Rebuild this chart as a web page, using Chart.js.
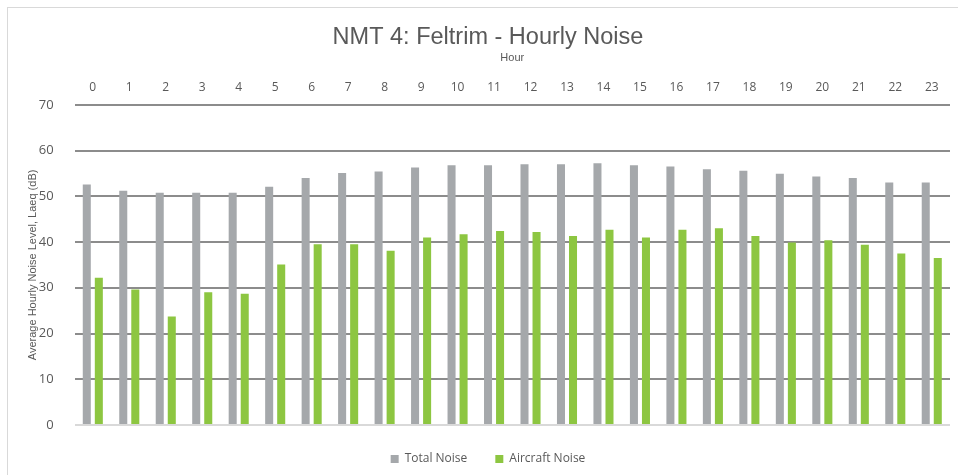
<!DOCTYPE html>
<html>
<head>
<meta charset="utf-8">
<script src="https://cdn.jsdelivr.net/npm/chart.js@4.4.1/dist/chart.umd.min.js"></script>
<style>
    body { margin: 0; background: #fff; }
    #frame { position: absolute; left: 7px; top: 7px; width: 1000px; height: 1000px; border: 1px solid #d9d9d9; }
    #wrap { position: absolute; left: 0; top: 0; width: 958px; height: 475px; }
</style>
</head>
<body>
<div id="frame"></div>
<div id="wrap"><canvas id="noiseChart"></canvas></div>
<script>
const hours = ['0', '1', '2', '3', '4', '5', '6', '7', '8', '9', '10', '11',
    '12', '13', '14', '15', '16', '17', '18', '19', '20', '21', '22', '23'];
const totalNoise = [52.6, 51.2, 50.8, 50.8, 50.8, 52.1, 54.0, 55.1, 55.4, 56.3, 56.8, 56.8,
    57.0, 57.0, 57.2, 56.8, 56.5, 55.9, 55.6, 54.9, 54.3, 54.0, 53.0, 53.0];
const aircraftNoise = [32.2, 29.6, 23.7, 29.0, 28.7, 35.1, 39.5, 39.5, 38.1, 41.0, 41.7, 42.4,
    42.2, 41.3, 42.7, 41.0, 42.7, 43.0, 41.3, 39.9, 40.4, 39.4, 37.5, 36.5];
const yTicks = [0, 10, 20, 30, 40, 50, 60, 70];

const textColor = '#595959';

const ctx = document.getElementById('noiseChart').getContext('2d');
new Chart(ctx, {
    type: 'bar',
    data: {
        labels: hours,
        datasets: [{
            label: 'Total Noise',
            data: totalNoise,
            backgroundColor: '#a5a8ab',
            barPercentage: 0.667,
            categoryPercentage: 0.66,
        }, {
            label: 'Aircraft Noise',
            data: aircraftNoise,
            backgroundColor: '#8dc641',
            barPercentage: 0.667,
            categoryPercentage: 0.66,
        }],
    },
    options: {
        responsive: true,
        maintainAspectRatio: false,
        animation: false,
        layout: { padding: { left: 26, right: 8, top: 14, bottom: 0 } },
        plugins: {
            title: {
                display: true,
                text: 'NMT 4: Feltrim - Hourly Noise',
                color: textColor,
                font: { family: 'Liberation Sans', size: 23.5, weight: 'normal' },
                padding: { top: 9, bottom: 0 },
            },
            legend: {
                display: true,
                position: 'bottom',
                labels: {
                    color: textColor,
                    boxWidth: 8,
                    boxHeight: 8,
                    padding: 28,
                    font: { family: 'Open Sans', size: 12 },
                },
            },
            tooltip: { enabled: false },
        },
        scales: {
            x: {
                position: 'top',
                grid: { display: false, drawTicks: false },
                border: { display: false },
                ticks: {
                    color: textColor,
                    padding: 10.5,
                    maxRotation: 0,
                    font: { family: 'Open Sans', size: 12 },
                },
                title: {
                    display: true,
                    text: 'Hour',
                    color: textColor,
                    font: { family: 'Liberation Sans', size: 11 },
                    padding: { top: 0, bottom: 5 },
                },
            },
            y: {
                min: 0,
                max: 70,
                afterBuildTicks: (axis) => {
                    axis.ticks = yTicks.map(v => ({ value: v }));
                },
                border: { display: false },
                grid: {
                    color: (c) => c.tick && c.tick.value === 0 ? '#d9d9d9' : '#8c8c8c',
                    lineWidth: 2,
                    drawTicks: false,
                },
                ticks: {
                    color: textColor,
                    padding: 21,
                    font: { family: 'Open Sans', size: 13 },
                },
                title: {
                    display: true,
                    text: 'Average Hourly Noise Level, Laeq (dB)',
                    color: textColor,
                    font: { family: 'Liberation Sans', size: 11 },
                    padding: { top: 0, bottom: -21.5 },
                },
            },
        },
    },
});
</script>
</body>
</html>
